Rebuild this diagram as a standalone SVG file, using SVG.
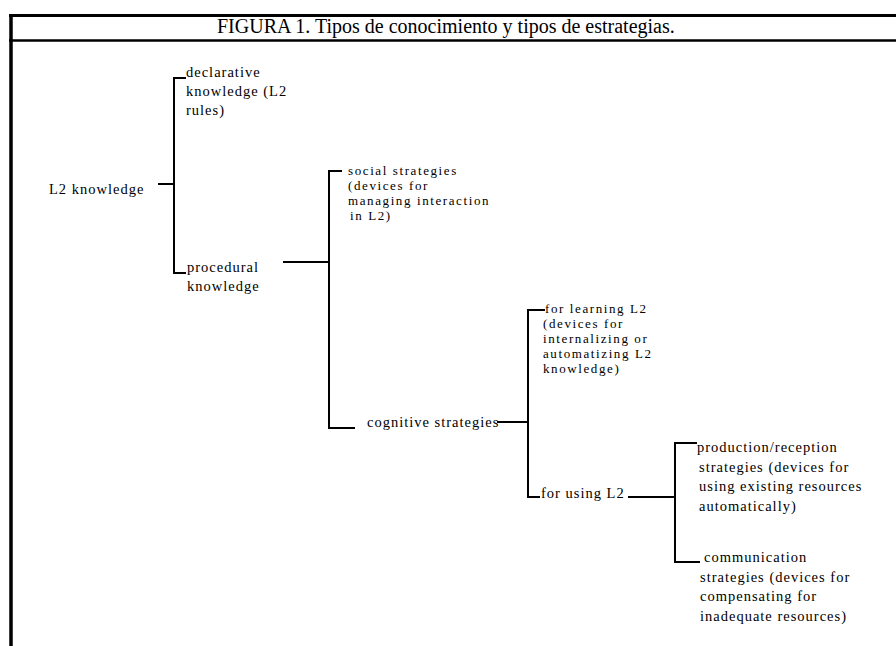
<svg xmlns="http://www.w3.org/2000/svg" width="896" height="646" viewBox="0 0 896 646">
<style>
  .t { font-family: "Liberation Serif", "Times New Roman", serif; font-size: 14.5px; letter-spacing: 1px; fill: #000; }
  .s { font-size: 13px; letter-spacing: 1.6px; }
  .title { font-family: "Liberation Serif", "Times New Roman", serif; font-size: 20px; fill: #000; }
  .c { fill: none; stroke: #000; stroke-width: 2; }
  .frame { fill: none; stroke: #000; }
</style>
<rect width="896" height="646" fill="#fff"/>
<g id="frame">
  <line class="frame" x1="9" y1="15.5" x2="896" y2="15.5" stroke-width="3"/>
  <line class="frame" x1="9" y1="40.5" x2="896" y2="40.5" stroke-width="2.5"/>
  <line class="frame" x1="11" y1="14" x2="11" y2="646" stroke-width="3.5"/>
</g>
<g id="title">
  <text class="title" x="217" y="33">FIGURA 1. Tipos de conocimiento y tipos de estrategias.</text>
</g>
<g id="connectors">
  <path class="c" d="M158 184 H174"/>
  <path class="c" d="M186 78 H174 V273 H186"/>
  <path class="c" d="M283 262 H329"/>
  <path class="c" d="M342 171 H329 V428 H355"/>
  <path class="c" d="M497 422 H528"/>
  <path class="c" d="M545 310 H528 V497 H540"/>
  <path class="c" d="M628 497 H675"/>
  <path class="c" d="M697 443 H675 V562 H700"/>
</g>
<g id="l2-knowledge">
  <text class="t" x="49" y="194">L2 knowledge</text>
</g>
<g id="declarative">
  <text class="t" x="186" y="77">declarative</text>
  <text class="t" x="186" y="96">knowledge (L2</text>
  <text class="t" x="186" y="115">rules)</text>
</g>
<g id="procedural">
  <text class="t" x="187" y="272">procedural</text>
  <text class="t" x="187" y="291">knowledge</text>
</g>
<g id="social">
  <text class="t s" x="348" y="175">social strategies</text>
  <text class="t s" x="348" y="190">(devices for</text>
  <text class="t s" x="348" y="205">managing interaction</text>
  <text class="t s" x="350" y="220">in L2)</text>
</g>
<g id="cognitive">
  <text class="t" x="367" y="427">cognitive strategies</text>
</g>
<g id="learning">
  <text class="t s" x="545" y="313">for learning L2</text>
  <text class="t s" x="543" y="328">(devices for</text>
  <text class="t s" x="543" y="343">internalizing or</text>
  <text class="t s" x="543" y="358">automatizing L2</text>
  <text class="t s" x="543" y="373">knowledge)</text>
</g>
<g id="using">
  <text class="t" x="541" y="498">for using L2</text>
</g>
<g id="production">
  <text class="t" x="697" y="452">production/reception</text>
  <text class="t" x="699" y="472">strategies (devices for</text>
  <text class="t" x="699" y="491">using existing resources</text>
  <text class="t" x="699" y="511">automatically)</text>
</g>
<g id="communication">
  <text class="t" x="704" y="562">communication</text>
  <text class="t" x="700" y="582">strategies (devices for</text>
  <text class="t" x="700" y="601">compensating for</text>
  <text class="t" x="700" y="621">inadequate resources)</text>
</g>
</svg>
